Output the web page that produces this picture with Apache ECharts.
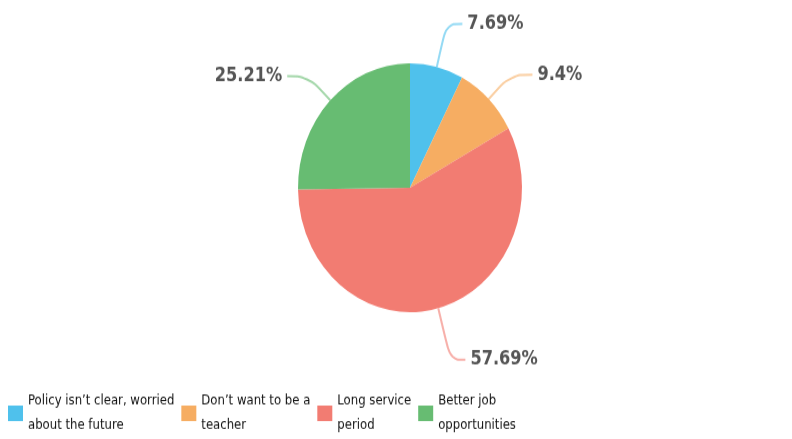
<!DOCTYPE html>
<html>
<head>
<meta charset="utf-8">
<script src="https://cdn.jsdelivr.net/npm/echarts@6/dist/echarts.min.js"></script>
<style>
html,body{margin:0;padding:0;background:#fff;overflow:hidden;}
#wrap{width:792px;height:439px;overflow:hidden;}
#chart{width:792px;height:395px;transform:scaleY(1.111);transform-origin:0 0;}
</style>
</head>
<body>
<div id="wrap"><div id="chart"></div></div>
<script>
const categories = ["Policy isn\u2019t clear, worried\nabout the future", "Don\u2019t want to be a\nteacher", "Long service\nperiod", "Better job\nopportunities"];
const values = [7.69, 9.4, 57.69, 25.21];
const colors = ["#4FC1EC", "#F6AD62", "#F27C72", "#67BC72"];
const lineLengths = [40, 31, 48, 31];
const lineLengths2 = [16, 22, 15, 21];

const FONT = "'Liberation Sans Narrow', 'DejaVu Sans Condensed', 'Liberation Sans', sans-serif";
const chart = echarts.init(document.getElementById('chart'));
chart.setOption({
  animation: false,
  color: colors,
  legend: {
    left: 3,
    top: 345,
    orient: 'horizontal',
    itemWidth: 15,
    itemHeight: 14,
    itemGap: 7,
    icon: 'rect',
    data: categories,
    textStyle: { fontFamily: FONT, fontSize: 13, color: '#111', lineHeight: 22 }
  },
  series: [{
    type: 'pie',
    center: [410, 169],
    radius: [0, 112],
    startAngle: 90,
    clockwise: true,
    avoidLabelOverlap: false,
    data: categories.map((c, i) => ({
      name: c, value: values[i],
      labelLine: { length: lineLengths[i], length2: lineLengths2[i] }
    })),
    label: {
      show: true,
      formatter: p => values[p.dataIndex] + '%',
      fontFamily: FONT,
      fontSize: 18,
      fontWeight: 'bold',
      color: '#555'
    },
    labelLine: {
      show: true,
      length: 40,
      length2: 8,
      smooth: 0.4,
      lineStyle: { width: 2, opacity: 0.6 }
    },
    itemStyle: { borderWidth: 0 }
  }]
});
</script>
</body>
</html>
